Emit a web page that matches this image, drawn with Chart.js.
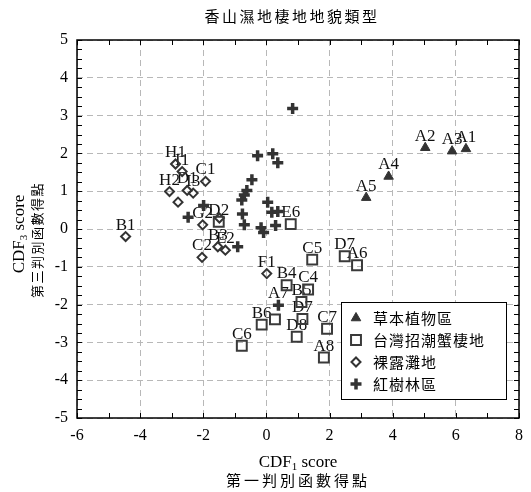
<!DOCTYPE html>
<html>
<head>
<meta charset="utf-8">
<script src="https://cdn.jsdelivr.net/npm/chart.js@4.4.0/dist/chart.umd.min.js"></script>
<style>
  html, body { margin: 0; padding: 0; background: #fff; }
</style>
</head>
<body>
<canvas id="chart" width="531" height="492"></canvas>
<script>
// 標題
const chartTitle = '香山濕地棲地地貌類型';
const seriesNames = ['草本植物區', '台灣招潮蟹棲地', '裸露灘地', '紅樹林區'];

// 刻度
const xTickValues = [-6, -4, -2, 0, 2, 4, 6, 8];
const yTickValues = [-5, -4, -3, -2, -1, 0, 1, 2, 3, 4, 5];

// 草本植物區
const herbX = [6.32, 5.03, 5.88, 3.87, 3.16];
const herbY = [2.12, 2.15, 2.06, 1.39, 0.83];
const herbLabels = ['A1', 'A2', 'A3', 'A4', 'A5'];

// 台灣招潮蟹棲地
const crabX = [2.48, 2.87, 0.77, 1.45, 0.64, 1.32, 1.11, 1.14, -0.15, 0.27, 0.96, 1.92, 1.82, -0.78, -1.51];
const crabY = [-0.72, -0.96, 0.13, -0.81, -1.49, -1.60, -1.93, -2.38, -2.53, -2.39, -2.85, -2.64, -3.40, -3.09, 0.19];
const crabLabels = ['D7', 'A6', 'E6', 'C5', 'B4', 'C4', 'B5', 'D7', 'B6', '', 'D8', 'C7', 'A8', 'C6', 'D2'];

// 裸露灘地
const flatX = [-4.46, -2.88, -2.67, -1.93, -3.07, -2.51, -2.32, -2.80, -2.02, -1.54, -1.30, -2.04, 0.01, -1.49];
const flatY = [-0.20, 1.72, 1.52, 1.26, 0.99, 1.02, 0.95, 0.71, 0.11, -0.47, -0.56, -0.75, -1.18, 0.29];
const flatLabels = ['B1', 'H1', 'I1', 'C1', 'H2', 'D1', 'I3', '', 'G2', 'B3', 'E2', 'C2', 'F1', ''];

// 紅樹林區
const mangroveX = [0.83, -0.28, 0.20, 0.36, -0.46, -0.62, -0.70, -0.78, 0.04, 0.17, 0.36, -0.76, -0.70, 0.29, -0.17, -0.09, -1.99, -2.48, -0.91, 0.38];
const mangroveY = [3.19, 1.94, 1.99, 1.75, 1.30, 1.02, 0.90, 0.77, 0.71, 0.44, 0.46, 0.40, 0.11, 0.09, 0.03, -0.09, 0.62, 0.31, -0.47, -2.02];
const mangroveLabels = ['', '', '', '', '', '', '', '', '', '', '', '', '', '', '', '', '', '', '', 'A7'];

function toPoints(xs, ys, labels) {
    return xs.map((x, i) => ({ x: x, y: ys[i], name: labels[i] }));
}

const serif = '"Liberation Serif", "Times New Roman", serif';
const cjk = '"Noto Sans CJK TC", "Noto Sans CJK SC", sans-serif';

// 點的標籤
const pointLabelPlugin = {
    id: 'pointLabels',
    beforeDatasetsDraw(chart) {
        const ctx = chart.ctx;
        ctx.save();
        ctx.font = '17px ' + serif;
        ctx.fillStyle = '#111';
        ctx.textAlign = 'center';
        ctx.textBaseline = 'alphabetic';
        chart.data.datasets.forEach((ds, di) => {
            const meta = chart.getDatasetMeta(di);
            meta.data.forEach((el, i) => {
                const name = ds.data[i].name;
                if (name) ctx.fillText(name, el.x, el.y - 7);
            });
        });
        ctx.restore();
    }
};

// 外框、內向刻度、標題、圖例
const framePlugin = {
    id: 'frame',
    afterDraw(chart) {
        const { ctx, chartArea: a, scales: { x, y } } = chart;
        ctx.save();
        ctx.strokeStyle = '#000';
        ctx.lineWidth = 1;
        ctx.beginPath();
        for (let v = x.min; v <= x.max; v += 1) {
            const px = Math.round(x.getPixelForValue(v)) + 0.5;
            ctx.moveTo(px, a.bottom); ctx.lineTo(px, a.bottom - 5);
            ctx.moveTo(px, a.top); ctx.lineTo(px, a.top + 5);
        }
        for (let v = y.min; v <= y.max; v += 0.25) {
            const py = Math.round(y.getPixelForValue(v)) + 0.5;
            ctx.moveTo(a.left, py); ctx.lineTo(a.left + 5, py);
            ctx.moveTo(a.right, py); ctx.lineTo(a.right - 5, py);
        }
        ctx.stroke();
        ctx.lineWidth = 1.5;
        ctx.strokeRect(a.left, a.top, a.right - a.left, a.bottom - a.top);

        // 標題
        const cx = (a.left + a.right) / 2;
        ctx.fillStyle = '#000';
        ctx.textAlign = 'center';
        ctx.textBaseline = 'middle';
        ctx.font = '15px ' + cjk;
        ctx.letterSpacing = '2.5px';
        ctx.fillText(chartTitle, cx - 6, 16);

        // X 軸標題
        drawSubTitle(ctx, 'CDF', '1', ' score', cx, 463);
        ctx.font = '15px ' + cjk;
        ctx.letterSpacing = '3px';
        ctx.textAlign = 'center';
        ctx.fillText('第一判別函數得點', cx, 480);

        // Y 軸標題
        ctx.save();
        ctx.translate(20, 234);
        ctx.rotate(-Math.PI / 2);
        drawSubTitle(ctx, 'CDF', '3', ' score', 0, 0);
        ctx.restore();
        ctx.save();
        ctx.translate(37, 240);
        ctx.rotate(-Math.PI / 2);
        ctx.font = '13px ' + cjk;
        ctx.letterSpacing = '1.5px';
        ctx.textAlign = 'center';
        ctx.textBaseline = 'middle';
        ctx.fillText('第三判別函數得點', 0, 0);
        ctx.restore();
        ctx.letterSpacing = '0px';

        // 圖例
        const lx = a.right - 178, ly = a.bottom - 116, lw = 165, lh = 97;
        ctx.fillStyle = '#fff';
        ctx.fillRect(lx, ly, lw, lh);
        ctx.strokeStyle = '#000';
        ctx.lineWidth = 1;
        ctx.strokeRect(lx + 0.5, ly + 0.5, lw, lh);
        chart.data.datasets.forEach((ds, i) => {
            const iy = ly + 16 + i * 22;
            ctx.fillStyle = ds.backgroundColor;
            ctx.strokeStyle = ds.borderColor;
            ctx.lineWidth = ds.borderWidth;
            Chart.helpers.drawPoint(ctx, {
                pointStyle: ds.pointStyle, radius: ds.pointRadius,
                borderWidth: ds.borderWidth, rotation: 0
            }, lx + 15, iy);
            ctx.fillStyle = '#000';
            ctx.font = '15px ' + cjk;
            ctx.letterSpacing = '1px';
            ctx.textAlign = 'left';
            ctx.textBaseline = 'middle';
            ctx.fillText(ds.label, lx + 32, iy);
        });
        ctx.letterSpacing = '0px';
        ctx.restore();
    }
};

function drawSubTitle(ctx, main, sub, rest, cx, cy) {
    ctx.save();
    ctx.letterSpacing = '0px';
    ctx.textBaseline = 'middle';
    ctx.textAlign = 'left';
    ctx.font = '17px ' + serif;
    const w1 = ctx.measureText(main).width;
    const w3 = ctx.measureText(rest).width;
    ctx.font = '11px ' + serif;
    const w2 = ctx.measureText(sub).width;
    let x0 = cx - (w1 + w2 + w3) / 2;
    ctx.fillStyle = '#000';
    ctx.font = '17px ' + serif;
    ctx.fillText(main, x0, cy);
    ctx.font = '11px ' + serif;
    ctx.fillText(sub, x0 + w1, cy + 4);
    ctx.font = '17px ' + serif;
    ctx.fillText(rest, x0 + w1 + w2, cy);
    ctx.restore();
}

const gridStyle = { color: '#b8b8b8', lineWidth: 1, drawTicks: false };

new Chart(document.getElementById('chart'), {
    type: 'scatter',
    data: {
        datasets: [{
            label: seriesNames[0],
            data: toPoints(herbX, herbY, herbLabels),
            pointStyle: 'triangle',
            pointRadius: 5.5,
            backgroundColor: '#333',
            borderColor: '#333',
            borderWidth: 1
        }, {
            label: seriesNames[1],
            data: toPoints(crabX, crabY, crabLabels),
            pointStyle: 'rect',
            pointRadius: 7,
            backgroundColor: 'rgba(0,0,0,0)',
            borderColor: '#3a3a3a',
            borderWidth: 2
        }, {
            label: seriesNames[2],
            data: toPoints(flatX, flatY, flatLabels),
            pointStyle: 'rectRot',
            pointRadius: 4.5,
            backgroundColor: 'rgba(0,0,0,0)',
            borderColor: '#333',
            borderWidth: 2
        }, {
            label: seriesNames[3],
            data: toPoints(mangroveX, mangroveY, mangroveLabels),
            pointStyle: 'cross',
            pointRadius: 5.5,
            backgroundColor: '#333',
            borderColor: '#333',
            borderWidth: 3.5
        }]
    },
    options: {
        responsive: false,
        animation: false,
        events: [],
        layout: { padding: { top: 40, right: 10, left: 0, bottom: 0 } },
        plugins: {
            legend: { display: false },
            tooltip: { enabled: false },
            title: { display: false }
        },
        scales: {
            x: {
                type: 'linear',
                min: -6, max: 8,
                afterBuildTicks: (scale) => { scale.ticks = xTickValues.map(v => ({ value: v })); },
                afterFit: (scale) => { scale.height = 74; },
                grid: gridStyle,
                border: { display: false, dash: [6, 4] },
                ticks: { color: '#000', padding: 8, font: { family: serif, size: 16 } }
            },
            y: {
                type: 'linear',
                min: -5, max: 5,
                afterBuildTicks: (scale) => { scale.ticks = yTickValues.map(v => ({ value: v })); },
                afterFit: (scale) => { scale.width = 77; },
                grid: gridStyle,
                border: { display: false, dash: [6, 4] },
                ticks: { color: '#000', padding: 9, font: { family: serif, size: 16 } }
            }
        }
    },
    plugins: [pointLabelPlugin, framePlugin]
});
</script>
</body>
</html>
